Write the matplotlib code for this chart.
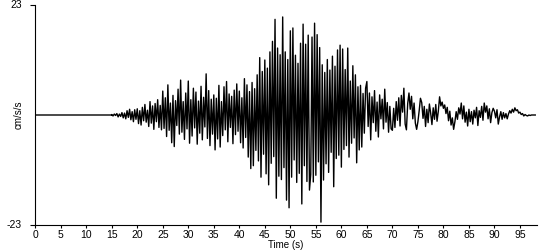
import numpy as np
import matplotlib
matplotlib.use("Agg")
from matplotlib import pyplot as plt

# ground acceleration (cm/s/s), every 0.25 s from 15 s on
dt = 0.25
onset = 15.0
acc_15_20 = [0.1, -0.2, 0.2, -0.1, 0.3, -0.4, 0.2, -0.3, 0.5, -0.6, 0.4, -0.8, 0.9, -0.5, 1.2, -1.0, 0.7, -1.4, 1.1, -0.9]
acc_20_25 = [1.3, -1.8, 0.9, -2.1, 1.6, -1.2, 2.2, -1.5, 1.0, -2.4, 2.8, -1.7, 1.9, -3.0, 2.4, -1.4, 3.2, -2.6, 2.0, -3.1]
acc_25_30 = [5.0, -2.8, 3.6, -4.5, 6.3, -3.2, 2.5, -5.8, 4.1, -6.6, 3.0, -2.2, 5.4, -4.0, 7.3, -3.6, 2.8, -5.1, 4.6, -2.9]
acc_30_35 = [7.1, -5.9, 3.2, -4.4, 5.6, -2.7, 4.8, -6.1, 2.9, -3.8, 6.0, -5.2, 3.7, -2.5, 8.6, -4.9, 5.1, -6.4, 3.3, -4.0]
acc_35_40 = [4.2, -7.3, 3.5, -5.0, 6.2, -6.7, 2.8, -4.3, 5.9, -3.1, 7.0, -5.6, 4.4, -2.6, 3.9, -6.0, 5.2, -4.1, 6.5, -3.4]
acc_40_45 = [5.0, -5.8, 3.6, -6.9, 7.6, -4.7, 6.3, -8.8, 4.9, -11.2, 6.8, -10.6, 5.5, -7.4, 8.4, -9.6, 12.0, -13.0, 9.1, -8.2]
acc_45_50 = [11.5, -12.3, 9.8, -14.6, 13.2, -10.1, 15.4, -8.7, 20.0, -17.4, 14.0, -12.8, 12.6, -13.5, 20.5, -11.0, 13.2, -17.8, 11.6, -19.4]
acc_50_55 = [17.6, -13.0, 18.2, -9.4, 12.5, -14.1, 10.8, -12.2, 15.0, -18.6, 19.0, -10.6, 14.8, -13.9, 16.7, -15.7, -12.4, 16.3, -14.0, 19.2]
acc_55_60 = [-12.6, 16.8, -9.8, 14.1, -22.4, 10.5, -13.6, 8.9, -10.2, 11.6, -12.0, 9.4, -7.8, 12.3, -15.0, 10.2, -9.1, 13.6, -8.4, 14.6]
acc_60_65 = [-10.9, 13.8, -7.2, 9.5, -6.4, 14.0, -8.8, 7.1, -5.9, 10.3, -4.8, 8.4, -10.0, 5.9, -7.3, 6.2, -6.7, 4.5, -3.8, 5.6]
acc_65_70 = [7.0, -2.4, 4.6, -5.2, 3.8, -1.6, 5.1, -3.4, 2.7, -4.6, 4.2, -0.8, 3.3, -2.9, 5.4, -1.5, 2.6, -3.6, 1.8, -2.9]
acc_70_75 = [-3.2, 1.4, -2.6, 2.8, -1.1, 3.6, -2.3, 4.1, 0.6, 5.6, -1.9, -3.1, 2.4, 4.6, 1.2, 3.9, -0.8, 2.5, -1.7, -3.0]
acc_75_80 = [-1.4, 0.9, 3.5, 2.6, -0.7, 1.8, -2.4, 1.2, -1.6, 2.3, 0.4, -2.0, 1.5, -0.9, 2.2, -1.3, 0.8, 3.8, 1.9, 2.7]
acc_80_85 = [1.4, 2.1, 0.3, 1.6, -1.2, 0.8, -2.1, -0.6, -3.0, -1.4, 0.7, -0.9, 1.5, 0.2, 2.5, -0.8, 1.9, -1.5, 0.6, -2.3]
acc_85_90 = [1.2, -1.4, 0.7, -1.9, 1.0, -0.6, 1.6, -2.2, 0.9, -0.5, 1.8, -1.1, 2.5, 0.6, 1.9, -0.8, 1.3, -1.6, 0.5, 1.4]
acc_90_95 = [0.8, -0.6, 1.1, -1.9, -0.4, 0.7, -0.9, 0.5, -0.6, 0.3, -0.8, 0.2, 0.9, 0.4, 1.2, 0.6, 1.5, 0.9, 1.1, 0.4]
acc_95_end = [0.6, 0.1, 0.3, -0.2, 0.1, -0.1, -0.2, 0.0, -0.1, 0.0, 0.0, 0.0, 0.0]

# before the onset the trace is flat
quiet_t = [0.0, onset]
quiet_a = [0.0, 0.0]

x_ticks = list(range(0, 100, 5))
y_limit = 23

acc = (acc_15_20 + acc_20_25 + acc_25_30 + acc_30_35 + acc_35_40 + acc_40_45
       + acc_45_50 + acc_50_55 + acc_55_60 + acc_60_65 + acc_65_70 + acc_70_75
       + acc_75_80 + acc_80_85 + acc_85_90 + acc_90_95 + acc_95_end)
t = onset + dt * np.arange(len(acc))

plt.rcParams['font.family'] = ['Liberation Sans', 'DejaVu Sans']
fig = plt.figure(figsize=(5.5, 2.5), dpi=100)
ax = fig.add_axes([0.064, 0.10, 0.912, 0.88])

ax.plot(quiet_t + list(t), quiet_a + acc, color='black', lw=1.0)

ax.set_xlim(0, 98.3)
ax.set_ylim(-y_limit, y_limit)
ax.set_xticks(x_ticks)
ax.set_yticks([-y_limit, y_limit])
ax.set_yticklabels([str(-y_limit), str(y_limit)])
ax.tick_params(axis='x', length=2.5, width=0.8, pad=1, labelsize=7.5)
ax.tick_params(axis='y', length=3.6, width=0.8, pad=6, labelsize=7.5)
for lab in ax.get_yticklabels():
    lab.set_verticalalignment('center')

for s in ['top', 'right']:
    ax.spines[s].set_visible(False)
for s in ['left', 'bottom']:
    ax.spines[s].set_linewidth(0.8)

ax.set_xlabel('Time (s)', fontsize=7, labelpad=0)
ax.set_ylabel('cm/s/s', fontsize=7, labelpad=-12)

fig.savefig('out.png', dpi=100)
